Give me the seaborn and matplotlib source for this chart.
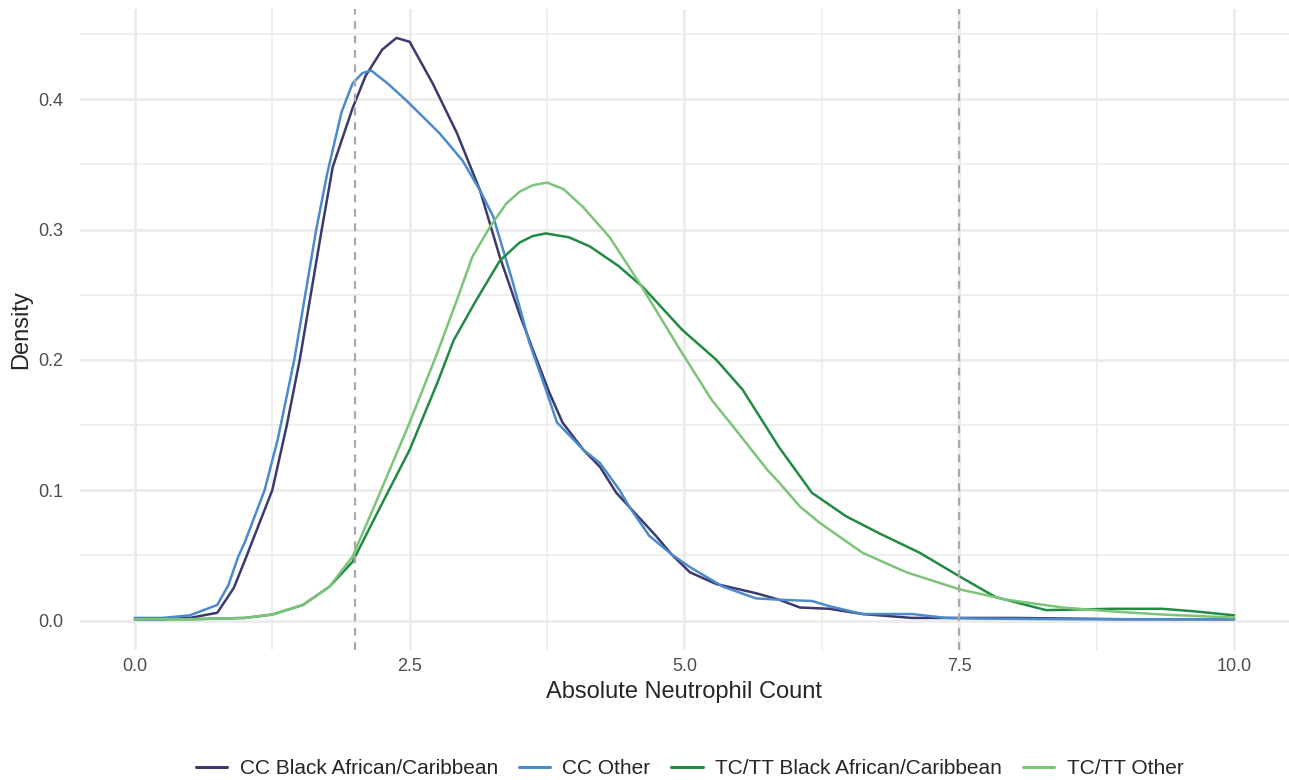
import matplotlib
matplotlib.use("Agg")
import matplotlib.pyplot as plt
import seaborn as sns
import pandas as pd
from matplotlib.ticker import MultipleLocator

# density curves, one (x, y) list per group
cc_black_x = [0, 0.25, 0.5, 0.75, 0.9, 1.0, 1.25, 1.38, 1.5, 1.6, 1.7, 1.8, 1.98, 2.1, 2.25, 2.38,
              2.5, 2.71, 2.93, 3.14, 3.32, 3.5, 3.62, 3.77, 3.89, 4.08, 4.23, 4.38, 4.5, 4.74,
              4.88, 5.05, 5.29, 5.65, 5.86, 6.05, 6.32, 6.62, 7.07, 7.5, 8.0, 9.0, 10.0]
cc_black_y = [0.001, 0.001, 0.002, 0.006, 0.025, 0.046, 0.100, 0.149, 0.200, 0.250, 0.300, 0.348,
              0.393, 0.418, 0.438, 0.447, 0.444, 0.412, 0.374, 0.330, 0.279, 0.235, 0.208, 0.175,
              0.152, 0.131, 0.118, 0.098, 0.087, 0.065, 0.051, 0.037, 0.028, 0.021, 0.016, 0.010,
              0.009, 0.005, 0.002, 0.002, 0.002, 0.001, 0.001]

cc_other_x = [0, 0.25, 0.5, 0.75, 0.85, 0.94, 1.0, 1.18, 1.3, 1.45, 1.53, 1.65, 1.75, 1.88, 1.98,
              2.07, 2.15, 2.3, 2.47, 2.77, 2.98, 3.14, 3.26, 3.44, 3.59, 3.74, 3.84, 4.08, 4.23,
              4.41, 4.5, 4.68, 4.88, 5.05, 5.35, 5.65, 5.86, 6.16, 6.32, 6.62, 7.07, 7.38, 7.68,
              8.5, 10.0]
cc_other_y = [0.002, 0.002, 0.004, 0.012, 0.027, 0.049, 0.060, 0.100, 0.139, 0.200, 0.240, 0.300,
              0.343, 0.390, 0.412, 0.420, 0.422, 0.412, 0.399, 0.374, 0.353, 0.330, 0.310, 0.259,
              0.213, 0.177, 0.152, 0.131, 0.121, 0.100, 0.087, 0.065, 0.051, 0.041, 0.026, 0.017,
              0.016, 0.015, 0.011, 0.005, 0.005, 0.002, 0.0015, 0.001, 0.001]

tc_black_x = [0, 0.5, 1.0, 1.25, 1.53, 1.77, 1.98, 2.25, 2.5, 2.75, 2.9, 3.1, 3.32, 3.5, 3.62,
              3.74, 3.95, 4.14, 4.4, 4.62, 4.98, 5.29, 5.53, 5.86, 6.16, 6.47, 6.77, 7.14, 7.5,
              7.83, 8.29, 8.89, 9.35, 9.65, 10.0]
tc_black_y = [0.001, 0.001, 0.002, 0.0046, 0.012, 0.026, 0.045, 0.090, 0.131, 0.182, 0.215, 0.245,
              0.276, 0.290, 0.295, 0.297, 0.294, 0.287, 0.272, 0.256, 0.223, 0.200, 0.177, 0.133,
              0.098, 0.080, 0.067, 0.052, 0.034, 0.018, 0.008, 0.009, 0.009, 0.007, 0.004]

tc_other_x = [0, 0.5, 1.0, 1.25, 1.53, 1.77, 1.98, 2.23, 2.5, 2.75, 2.93, 3.07, 3.23, 3.38, 3.5,
              3.62, 3.75, 3.9, 4.08, 4.32, 4.59, 4.98, 5.25, 5.47, 5.75, 5.86, 6.05, 6.23, 6.62,
              7.02, 7.5, 7.93, 8.44, 8.89, 9.35, 10.0]
tc_other_y = [0.001, 0.001, 0.002, 0.0046, 0.012, 0.026, 0.049, 0.098, 0.152, 0.205, 0.246, 0.279,
              0.302, 0.320, 0.329, 0.334, 0.336, 0.331, 0.317, 0.294, 0.259, 0.205, 0.169, 0.146,
              0.116, 0.106, 0.0875, 0.075, 0.052, 0.037, 0.024, 0.016, 0.010, 0.007, 0.0046, 0.0023]

groups = ["CC Black African/Caribbean", "CC Other", "TC/TT Black African/Caribbean", "TC/TT Other"]
colors = ["#3b3a6e", "#4b8acb", "#218b44", "#7cc47a"]
cutoffs = [2.0, 7.5]

frames = []
for g, xs, ys in zip(groups,
                     [cc_black_x, cc_other_x, tc_black_x, tc_other_x],
                     [cc_black_y, cc_other_y, tc_black_y, tc_other_y]):
    frames.append(pd.DataFrame({"anc": xs, "density": ys, "group": g}))
df = pd.concat(frames, ignore_index=True)

sns.set_style("white")
plt.rcParams["font.family"] = ["Liberation Sans", "DejaVu Sans"]

fig = plt.figure(figsize=(12.89, 7.8), dpi=100)
ax = fig.add_axes([0.062, 0.167, 0.938, 0.822])

sns.lineplot(data=df, x="anc", y="density", hue="group", hue_order=groups,
             palette=dict(zip(groups, colors)), linewidth=1.8, ax=ax, legend=False,
             sort=True, estimator=None)

for c in cutoffs:
    ax.axvline(c, color="#a9a9a9", linewidth=1.6, linestyle=(0, (3.5, 3)), zorder=3)

ax.set_xlim(-0.5, 10.5)
ax.set_ylim(-0.0224, 0.4695)
ax.xaxis.set_major_locator(MultipleLocator(2.5))
ax.xaxis.set_minor_locator(MultipleLocator(1.25))
ax.yaxis.set_major_locator(MultipleLocator(0.1))
ax.yaxis.set_minor_locator(MultipleLocator(0.05))
ax.xaxis.set_major_formatter(matplotlib.ticker.FormatStrFormatter("%.1f"))
ax.yaxis.set_major_formatter(matplotlib.ticker.FormatStrFormatter("%.1f"))

ax.grid(which="major", color="#ebebeb", linewidth=2.0)
ax.grid(which="minor", color="#ebebeb", linewidth=1.1)
ax.set_axisbelow(True)
for s in ax.spines.values():
    s.set_visible(False)
ax.tick_params(which="both", length=0, labelsize=13, labelcolor="#4d4d4d")
ax.tick_params(axis="y", pad=12)
ax.tick_params(axis="x", pad=6)

ax.set_xlabel("Absolute Neutrophil Count", fontsize=17, labelpad=4)
ax.set_ylabel("Density", fontsize=17, labelpad=4)

handles = [plt.Line2D([], [], color=c, linewidth=2.2) for c in colors]
fig.legend(handles, groups, loc="lower center", bbox_to_anchor=(0.535, -0.022), ncol=4,
           frameon=False, fontsize=15, handlelength=1.5, handletextpad=0.6, columnspacing=1.0)

fig.savefig("out.png", dpi=100)
